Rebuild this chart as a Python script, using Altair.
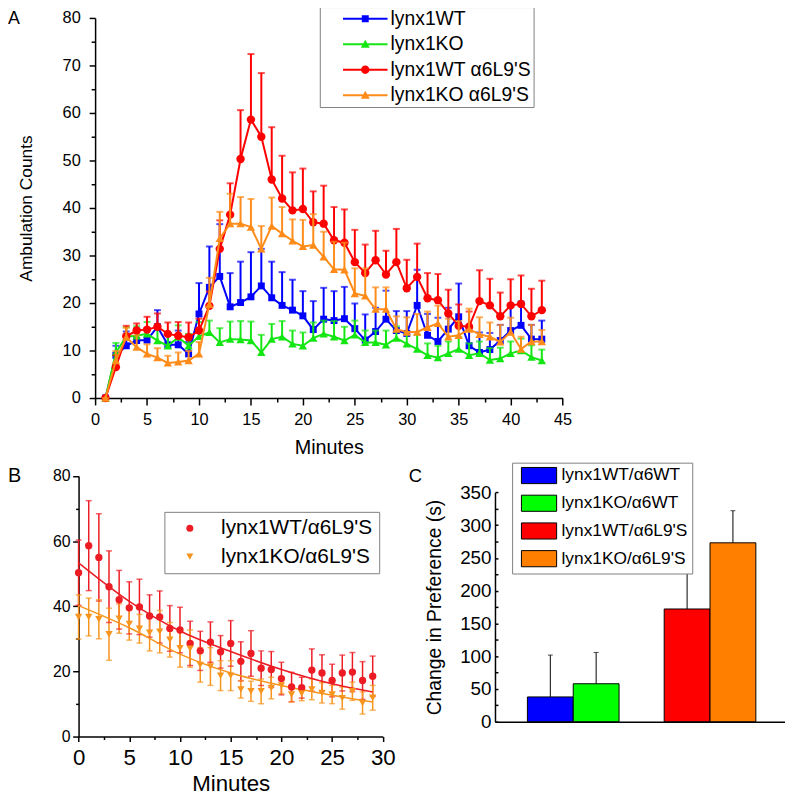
import altair as alt
import pandas as pd

FONT = "Liberation Sans"
W, H = 785, 787

# ---------------- Panel A data ----------------
minutes_a = list(range(1, 44))
a_wt = [0, 9, 11, 12.1, 12.2, 15, 11.2, 11.2, 9.3, 17.7, 23.3, 25.6, 19.2, 20.1, 21.3, 23.6, 21.1, 19.5,
        18.5, 17.3, 14.4, 16.6, 16.3, 16.7, 14.6, 12.2, 14, 16.6, 14.2, 13.6, 19.5, 13.2, 11.9, 14.5,
        17.1, 11, 9.6, 10.2, 12.1, 14.2, 15.3, 12.4, 12.4]
a_wt_err = [0, 2, 3, 2.5, 2.5, 3.5, 2.5, 3, 2.5, 6.5, 8.6, 11, 7.1, 8.6, 9.4, 7.8, 7.6, 7, 6.4, 5.2, 6,
            6.6, 6.2, 6.7, 5.3, 5.4, 5, 6, 4.1, 4.7, 7.5, 4.5, 5, 4.5, 7, 3.5, 4.2, 3.5, 3.3, 5, 5, 3, 3.9]
a_ko = [0, 9.6, 12.9, 13.1, 13.5, 12.1, 11, 12.8, 11, 13, 13.8, 11.7, 12.4, 12.3, 12.1, 9.6, 12.4, 12.9,
        11.4, 11, 12.6, 13.5, 12.9, 12.1, 13.3, 11.7, 11.7, 11.2, 12.6, 11.4, 10.3, 9, 8.5, 9.4, 10.3,
        9, 9.4, 8, 8.3, 9.4, 10, 8.6, 7.9]
a_ko_err = [0, 2, 2, 2, 2.5, 2.5, 2.5, 2.5, 2.5, 3, 2.5, 3, 3.7, 3.9, 4, 3.7, 3.2, 3.3, 2.8, 2.8, 3.3,
            2.8, 3.3, 2.9, 3, 2.5, 2.5, 3, 2.5, 2.5, 3, 2.5, 2.5, 2.5, 2.5, 2.5, 2.5, 2.5, 2.3, 2.5,
            2.5, 2.5, 2.3]
a_wt_l9s = [0, 6.5, 13, 14.2, 14.4, 15, 13.5, 13.1, 12.8, 14.2, 19.4, 31.4, 38.6, 50.3, 58.6, 55, 46,
            42, 39.5, 39.8, 37, 36.7, 33.2, 32.7, 28.6, 26.3, 29, 26, 28.6, 23.1, 25.5, 21, 20.6, 17.8,
            15.2, 15, 20.4, 19.5, 17.2, 19.5, 19.8, 17.2, 18.5]
a_wt_l9s_err = [0, 2.5, 2.2, 1.5, 2.7, 2.8, 2.4, 2.9, 3.1, 2.5, 3, 6, 6.6, 10.3, 13.8, 13.4, 11, 9, 8,
                8.5, 6.5, 8, 7, 7, 6.8, 6, 6.2, 5, 7, 6, 7, 5.3, 5.5, 5, 4.5, 3.2, 6.5, 5.6, 5, 5.5,
                6, 5.8, 6.2]
a_ko_l9s = [0, 7.9, 12.8, 10.7, 9.3, 8.5, 7.4, 7.6, 7.9, 9.3, 19.7, 33.6, 36.7, 36.7, 36, 31.4, 36.2,
            34.6, 33.1, 31.9, 32.2, 29.7, 27.1, 27, 22, 21.5, 18.7, 18.7, 14.5, 13.9, 13.9, 14.9, 15.7,
            12.9, 13.2, 14.5, 13.4, 12.9, 11.8, 13.9, 10.3, 11.9, 11.9]
a_ko_l9s_err = [0, 2, 2, 2.5, 2, 2, 1.5, 2, 2, 2.5, 5.6, 5.6, 6.3, 5.6, 5.9, 4.8, 6, 5.6, 4.5, 5.6,
                6.5, 5.3, 5.8, 5.7, 5.3, 5.8, 4.6, 4.6, 2.7, 3.1, 3.8, 3.3, 3.75, 3.8, 3, 4.3, 3.6, 3,
                3.6, 3, 2.6, 3.5, 2.4]
series_a = ["lynx1WT", "lynx1KO", "lynx1WT \u03b16L9'S", "lynx1KO \u03b16L9'S"]
colors_a = ["#0000ff", "#14e614", "#ff0000", "#ff8c1a"]
shapes_a = ["square", "triangle-up", "circle", "triangle-up"]
sizes_a = [49, 72, 72, 72]
a_x_major = [0, 5, 10, 15, 20, 25, 30, 35, 40, 45]
a_x_minor = [2.5, 7.5, 12.5, 17.5, 22.5, 27.5, 32.5, 37.5, 42.5]
a_y_major = [0, 10, 20, 30, 40, 50, 60, 70, 80]
a_y_minor = [5, 15, 25, 35, 45, 55, 65, 75]

# ---------------- Panel B data ----------------
minutes_b = list(range(30))
b_wt = [50.3, 58.6, 55, 46, 42, 39.5, 39.8, 37, 36.7, 33.2, 32.7, 28.6, 26.3, 29, 26, 28.6, 23.1, 25.5,
        21, 20.6, 17.8, 15.2, 15, 20.4, 19.5, 17.2, 19.5, 19.8, 17.2, 18.5]
b_wt_err = [10, 13.8, 13.4, 11, 9, 8, 8.5, 6.5, 8, 7, 7, 6.8, 6, 6.2, 5, 7, 6, 7, 5.3, 5.5, 5, 4.5,
            3.2, 6.5, 5.6, 5, 5.5, 6, 5.8, 6.2]
b_ko = [36.7, 36.7, 36, 31.4, 36.2, 34.6, 33.1, 31.9, 32.2, 29.7, 27.1, 27, 22, 21.5, 18.7, 18.7, 14.5,
        13.9, 13.9, 14.9, 15.7, 12.9, 13.2, 14.5, 13.4, 12.9, 11.8, 13.9, 10.3, 11.9]
b_ko_err = [6.8, 5.8, 6, 8, 4.5, 5, 4.4, 5.6, 6.5, 5.3, 5.8, 5.7, 5.3, 5.8, 4.6, 4.6, 2.7, 3.1, 3.8,
            3.3, 2.5, 2.3, 2.2, 3.2, 3.1, 2.8, 3.4, 2.8, 3.4, 3.8]
fit_t = [0, 5, 10, 15, 20, 25, 29]
fit_wt = [53.3, 41.5, 32.4, 26.1, 20.6, 16.2, 13.7]
fit_ko = [40.2, 33.4, 25.3, 19.5, 15.7, 12.7, 10.6]
series_b = ["lynx1WT/\u03b16L9'S", "lynx1KO/\u03b16L9'S"]
colors_b = ["#ec1c24", "#f7941d"]
b_x_major = [0, 5, 10, 15, 20, 25, 30]
b_x_minor = [2.5, 7.5, 12.5, 17.5, 22.5, 27.5]
b_y_major = [0, 20, 40, 60, 80]
b_y_minor = [10, 30, 50, 70]

# ---------------- Panel C data ----------------
groups_c = ["\u03b16WT", "\u03b16WT", "\u03b16L9'S", "\u03b16L9'S"]
subs_c = ["lynx1WT", "lynx1KO", "lynx1WT", "lynx1KO"]
series_c = ["lynx1WT/\u03b16WT", "lynx1KO/\u03b16WT", "lynx1WT/\u03b16L9'S", "lynx1KO/\u03b16L9'S"]
values_c = [37.8, 57.9, 172, 273]
errs_c = [63.9, 47.8, 62, 49]
colors_c = ["#0000ff", "#00ff00", "#ff0000", "#ff8000"]
c_y_major = [0, 50, 100, 150, 200, 250, 300, 350]
c_y_all = [0, 25, 50, 75, 100, 125, 150, 175, 200, 225, 250, 275, 300, 325, 350]

common = dict(labelFont=FONT, titleFont=FONT, labelColor="black", titleColor="black",
              domainColor="black", tickColor="black", grid=False, labelFlush=False,
              labelOverlap=False, titleFontWeight="normal")


def minor_axis(orient, offset, values, size):
    return alt.Axis(orient=orient, offset=offset, values=values, labels=False, domain=False,
                    title=None, tickSize=size, tickWidth=1.5, tickColor="black", grid=False)


layers = []

# ---------------- Panel A ----------------
sx_a = alt.Scale(domain=[0, 45], range=[88, 560.3], nice=False, zero=False)
sy_a = alt.Scale(domain=[0, 80], range=[390, 6], nice=False, zero=False)
ax_a_x = alt.Axis(orient="bottom", offset=390 - H, values=a_x_major, tickSize=7, tickWidth=1.5,
                  domainWidth=1.5, labelFontSize=16.5, labelPadding=7,
                  title="Minutes", titleFontSize=20, titlePadding=10, **common)
ax_a_y = alt.Axis(orient="left", offset=-88, values=a_y_major, tickSize=6, tickWidth=1.5,
                  domainWidth=1.5, labelFontSize=16.5, labelPadding=9,
                  title="Ambulation Counts", titleFontSize=17.5, titlePadding=27, **common)
ax_a_x_min = minor_axis("bottom", 390 - H, a_x_minor, 4)
ax_a_y_min = minor_axis("left", -88, a_y_minor, 4)

a_data = [(a_wt, a_wt_err), (a_ko, a_ko_err), (a_wt_l9s, a_wt_l9s_err), (a_ko_l9s, a_ko_l9s_err)]
for i, (vals, errs) in enumerate(a_data):
    df = pd.DataFrame({"minute": minutes_a, "value": vals, "err": errs})
    base = alt.Chart(df).transform_calculate(top="datum.value + datum.err")
    col = colors_a[i]
    x = alt.X("minute:Q", scale=sx_a, axis=None)
    layers.append(base.mark_rule(color=col, strokeWidth=2).encode(
        x=x, y=alt.Y("value:Q", scale=sy_a, axis=None), y2="top:Q"))
    layers.append(base.mark_tick(orient="horizontal", color=col, size=7, thickness=2).encode(
        x=x, y=alt.Y("top:Q", scale=sy_a, axis=None)))
    layers.append(base.mark_line(color=col, strokeWidth=2).encode(
        x=alt.X("minute:Q", scale=sx_a, axis=ax_a_x if i == 0 else None),
        y=alt.Y("value:Q", scale=sy_a, axis=ax_a_y if i == 0 else None)))
    layers.append(base.mark_point(color=col, filled=True, opacity=1, shape=shapes_a[i],
                                  size=sizes_a[i]).encode(
        x=alt.X("minute:Q", scale=sx_a, axis=ax_a_x_min if i == 0 else None),
        y=alt.Y("value:Q", scale=sy_a, axis=ax_a_y_min if i == 0 else None)))

p_line = "M-2.5,-0.11H2.5V0.11H-2.5Z"
paths_a = [
    p_line + "M-0.39,-0.39H0.39V0.39H-0.39Z",
    p_line + "M0,-0.5L0.5,0.4H-0.5Z",
    p_line + "M0.47,0A0.47,0.47 0 1,1 -0.47,0A0.47,0.47 0 1,1 0.47,0Z",
    p_line + "M0,-0.5L0.5,0.4H-0.5Z",
]
leg_a = alt.Legend(title=None, orient="none", legendX=315, legendY=-5, padding=2,
                   strokeColor="#7f7f7f", fillColor="white", labelFont=FONT, labelFontSize=19.5,
                   labelColor="black", labelLimit=400, symbolSize=324, symbolOffset=34.2,
                   labelOffset=15.8, rowPadding=4.8, symbolStrokeWidth=0)
layers.append(alt.Chart(pd.DataFrame({"series": series_a})).mark_point(
    filled=True, size=324, opacity=1, strokeWidth=0).encode(
    color=alt.Color("series:N", scale=alt.Scale(domain=series_a, range=colors_a), legend=leg_a),
    shape=alt.Shape("series:N", scale=alt.Scale(domain=series_a, range=paths_a), legend=leg_a),
).transform_filter("false"))

# ---------------- Panel B ----------------
sx_b = alt.Scale(domain=[0, 30], range=[71.3, 378.7], nice=False, zero=False)
sy_b = alt.Scale(domain=[0, 80], range=[732, 468.7], nice=False, zero=False)
col_b = alt.Scale(domain=series_b, range=colors_b)
shp_b = alt.Scale(domain=series_b, range=["circle", "triangle-down"])
df_b = pd.DataFrame({"t": minutes_b * 2, "value": b_wt + b_ko, "err": b_wt_err + b_ko_err,
                     "series": [series_b[0]] * 30 + [series_b[1]] * 30})
df_fit = pd.DataFrame({"t": fit_t * 2, "fit": fit_wt + fit_ko,
                       "series": [series_b[0]] * len(fit_t) + [series_b[1]] * len(fit_t)})

ax_b_x = alt.Axis(orient="bottom", offset=732 - H, values=b_x_major, tickSize=5, tickWidth=1.5,
                  domainWidth=1.5, labelFontSize=22.5, labelPadding=5, title="Minutes",
                  titleFontSize=22.5, titlePadding=4, **common)
ax_b_x_min = minor_axis("bottom", 732 - H, b_x_minor, 3)
ax_b_y = alt.Axis(orient="left", offset=-71.3, values=b_y_major, tickSize=6, tickWidth=1.5,
                  domainWidth=1.5, labelFontSize=16, labelPadding=2.6, title=None, **common)
ax_b_y_min = minor_axis("left", -71.3, b_y_minor, 3)
leg_b = alt.Legend(title=None, orient="none", legendX=158, legendY=505, padding=6,
                   strokeColor="#7f7f7f", fillColor="white", labelFont=FONT, labelFontSize=21,
                   labelColor="black", labelLimit=400, symbolSize=50, symbolOffset=9.2,
                   labelOffset=21.1, rowPadding=6.7, symbolStrokeWidth=0)

base_b = alt.Chart(df_b).transform_calculate(lo="datum.value - datum.err", hi="datum.value + datum.err")
layers.append(base_b.mark_rule(strokeWidth=1.5).encode(
    x=alt.X("t:Q", scale=sx_b, axis=None), y=alt.Y("lo:Q", scale=sy_b, axis=None), y2="hi:Q",
    color=alt.Color("series:N", scale=col_b, legend=None)))
layers.append(base_b.transform_fold(["lo", "hi"], as_=["end", "yv"]).mark_tick(
    orient="horizontal", size=6, thickness=1.5).encode(
    x=alt.X("t:Q", scale=sx_b, axis=None), y=alt.Y("yv:Q", scale=sy_b, axis=None),
    color=alt.Color("series:N", scale=col_b, legend=None)))
layers.append(alt.Chart(df_fit).mark_line(strokeWidth=1.5, interpolate="monotone").encode(
    x=alt.X("t:Q", scale=sx_b, axis=ax_b_x_min), y=alt.Y("fit:Q", scale=sy_b, axis=ax_b_y_min),
    color=alt.Color("series:N", scale=col_b, legend=None)))
layers.append(alt.Chart(df_b).mark_point(filled=True, opacity=1, size=55).encode(
    x=alt.X("t:Q", scale=sx_b, axis=ax_b_x), y=alt.Y("value:Q", scale=sy_b, axis=ax_b_y),
    color=alt.Color("series:N", scale=col_b, legend=leg_b),
    shape=alt.Shape("series:N", scale=shp_b, legend=leg_b)))

# ---------------- Panel C ----------------
df_c = pd.DataFrame({"group": groups_c, "sub": subs_c, "series": series_c, "value": values_c,
                     "err": errs_c})
sx_c = alt.Scale(domain=[groups_c[0], groups_c[2]], range=[492, 788.3], paddingInner=0.33,
                 paddingOuter=0.237)
so_c = alt.Scale(domain=[subs_c[0], subs_c[1]], paddingInner=0, paddingOuter=0)
sy_c = alt.Scale(domain=[0, 350], range=[717, 485.3], nice=False, zero=False)
ax_c_x = alt.Axis(orient="bottom", offset=717 - H, labels=False, ticks=False, title=None,
                  domainWidth=1.5, **common)
ax_c_y = alt.Axis(orient="left", offset=-492, values=c_y_major, ticks=False, domainWidth=1.5,
                  labelFontSize=19, labelPadding=4, title="Change in Preference (s)",
                  titleFontSize=19.5, titlePadding=15, **common)
ax_c_y_in = minor_axis("right", 492 - W, c_y_all, 3)
leg_c = alt.Legend(title=None, orient="none", legendX=509.3, legendY=455.3, padding=4,
                   strokeColor="#7f7f7f", fillColor="white", labelFont=FONT, labelFontSize=17.5,
                   labelColor="black", labelLimit=400, symbolType="M-2.18,-1H2.18V1H-2.18Z",
                   symbolSize=266, symbolStrokeColor="black", symbolStrokeWidth=1,
                   symbolOffset=14.2, labelOffset=13.7, rowPadding=6)
base_c = alt.Chart(df_c).transform_calculate(top="datum.value + datum.err")
layers.append(base_c.mark_rule(color="black", strokeWidth=1).encode(
    x=alt.X("group:N", scale=sx_c, axis=None),
    xOffset=alt.XOffset("sub:N", scale=so_c),
    y=alt.Y("value:Q", scale=sy_c, axis=ax_c_y_in), y2="top:Q"))
layers.append(base_c.mark_bar(stroke="black", strokeWidth=1).encode(
    x=alt.X("group:N", scale=sx_c, axis=ax_c_x),
    xOffset=alt.XOffset("sub:N", scale=so_c),
    y=alt.Y("value:Q", scale=sy_c, axis=ax_c_y),
    color=alt.Color("series:N", scale=alt.Scale(domain=series_c, range=colors_c), legend=leg_c)))
layers.append(base_c.mark_tick(orient="horizontal", color="black", size=5, thickness=1).encode(
    x=alt.X("group:N", scale=sx_c, axis=None),
    xOffset=alt.XOffset("sub:N", scale=so_c),
    y=alt.Y("top:Q", scale=sy_c, axis=None)))


# ---------------- Panel letters ----------------
def letter(ch, x, y, size):
    return alt.Chart(pd.DataFrame({"label": [ch]})).mark_text(
        align="left", baseline="alphabetic", fontSize=size, font=FONT, color="black").encode(
        text="label:N", x=alt.value(x), y=alt.value(y))


layers += [letter("A", 0, 12, 18), letter("B", 0, 475, 20), letter("C", 405, 475, 18.5)]

chart = alt.layer(*layers).resolve_scale(
    x="independent", y="independent", color="independent", shape="independent",
    xOffset="independent"
).properties(
    width=W, height=H, autosize=alt.AutoSizeParams(type="none"), padding=0
).configure_view(stroke=None)

chart.save("out.html", embed_options={"renderer": "svg", "actions": False})
